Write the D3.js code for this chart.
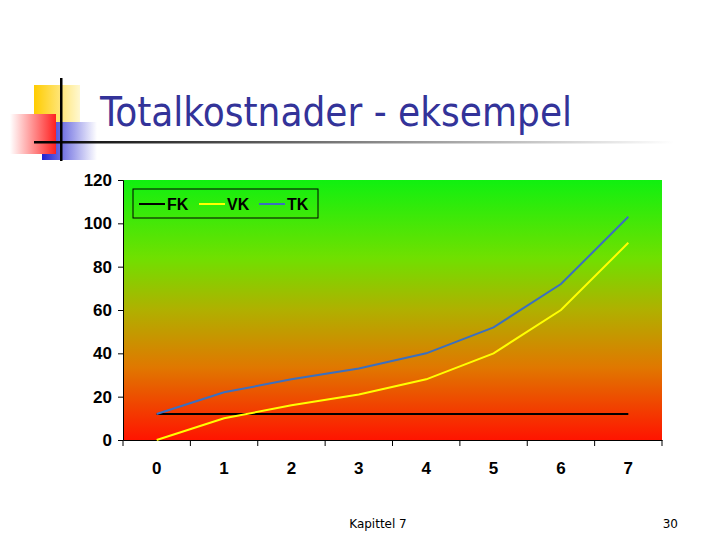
<!DOCTYPE html><html><head><meta charset="utf-8"><script src="https://cdn.jsdelivr.net/npm/d3@7"></script>
<style>body{margin:0;background:#fff}</style></head><body><svg id="c" width="720" height="540"></svg>
<script>
const categories=["0","1","2","3","4","5","6","7"];
const FK=[12,12,12,12,12,12,12,12];
const VK=[0,10,16,21,28,40,60,91];
const TK=[12,22,28,33,40,52,72,103];
const yTicks=[0,20,40,60,80,100,120];
const series=[{name:"FK",values:FK,color:"#000000"},{name:"VK",values:VK,color:"#ffff00"},{name:"TK",values:TK,color:"#3b6fc0"}];
const svg=d3.select("#c");
const defs=svg.append("defs");
const bg=defs.append("linearGradient").attr("id","bg").attr("x1",0).attr("y1",0).attr("x2",0).attr("y2",1);
[[0,"#10f010"],[0.3,"#70e000"],[0.5,"#b0b000"],[0.72,"#e07800"],[1,"#ff1400"]].forEach(s=>bg.append("stop").attr("offset",s[0]).attr("stop-color",s[1]));
const hl=defs.append("linearGradient").attr("id","hl");
hl.append("stop").attr("offset",0).attr("stop-color","#000");hl.append("stop").attr("offset",1).attr("stop-color","#fff");
const rg=defs.append("linearGradient").attr("id","rg");
rg.append("stop").attr("offset",0).attr("stop-color","#fff");rg.append("stop").attr("offset",1).attr("stop-color","#ff2020");
const yg=defs.append("linearGradient").attr("id","yg");
yg.append("stop").attr("offset",0).attr("stop-color","#ffcc00");yg.append("stop").attr("offset",1).attr("stop-color","#fff8d0");
const bgr=defs.append("linearGradient").attr("id","bgr");
bgr.append("stop").attr("offset",0).attr("stop-color","#2020d0");bgr.append("stop").attr("offset",1).attr("stop-color","#fff");
// logo
svg.append("rect").attr("x",34).attr("y",85).attr("width",46).attr("height",40).attr("fill","url(#yg)");
svg.append("rect").attr("x",42).attr("y",122).attr("width",55).attr("height",38).attr("fill","url(#bgr)");
svg.append("rect").attr("x",10).attr("y",114).attr("width",46).attr("height",40).attr("fill","url(#rg)");
svg.append("rect").attr("x",34).attr("y",141).attr("width",640).attr("height",2.5).attr("fill","url(#hl)");
svg.append("rect").attr("x",60).attr("y",78).attr("width",2.5).attr("height",83).attr("fill","#000");
svg.append("text").attr("x",100).attr("y",126).attr("font-family","DejaVu Sans Condensed, DejaVu Sans").attr("font-size",40).attr("fill","#333399").text("Totalkostnader - eksempel");
// chart
const L=123,R=662,T=180,B=440;
const x=d3.scaleBand().domain(categories).range([L,R]);
const y=d3.scaleLinear().domain([0,120]).range([B,T]);
svg.append("rect").attr("x",L).attr("y",T).attr("width",R-L).attr("height",B-T).attr("fill","url(#bg)");
const ya=svg.append("g").attr("transform",`translate(${L},0)`).call(d3.axisLeft(y).tickValues(yTicks).tickSize(5).tickPadding(6));
const xa=svg.append("g").attr("transform",`translate(0,${B})`).call(d3.axisBottom(x).tickSize(0).tickPadding(22));
xa.selectAll(".tick").append("line").attr("x1",-x.bandwidth()/2).attr("x2",-x.bandwidth()/2).attr("y2",6).attr("stroke","#000");
xa.append("line").attr("x1",R).attr("x2",R).attr("y2",6).attr("stroke","#000");
[ya,xa].forEach(a=>{a.selectAll("text").attr("font-family","Liberation Sans Narrow, Liberation Sans").attr("font-weight","bold").attr("font-size",17).attr("fill","#000");a.select(".domain").attr("stroke","#000");});
const line=d3.line().x((d,i)=>x(categories[i])+x.bandwidth()/2).y(d=>y(d));
series.forEach(s=>svg.append("path").attr("d",line(s.values)).attr("fill","none").attr("stroke",s.color).attr("stroke-width",2));
// legend
const lg=svg.append("g");
lg.append("rect").attr("x",133).attr("y",189).attr("width",185).attr("height",29).attr("fill","none").attr("stroke","#000");
series.forEach((s,i)=>{const ox=139+i*60;
lg.append("line").attr("x1",ox).attr("x2",ox+26).attr("y1",204).attr("y2",204).attr("stroke",s.color).attr("stroke-width",2);
lg.append("text").attr("x",ox+28).attr("y",210).attr("font-family","Liberation Sans Narrow, Liberation Sans").attr("font-weight","bold").attr("font-size",16).text(s.name);});
svg.append("text").attr("x",378).attr("y",528).attr("text-anchor","middle").attr("font-family","DejaVu Sans").attr("font-size",12).text("Kapittel 7");
svg.append("text").attr("x",678).attr("y",528).attr("text-anchor","end").attr("font-family","DejaVu Sans").attr("font-size",12).text("30");
</script></body></html>
